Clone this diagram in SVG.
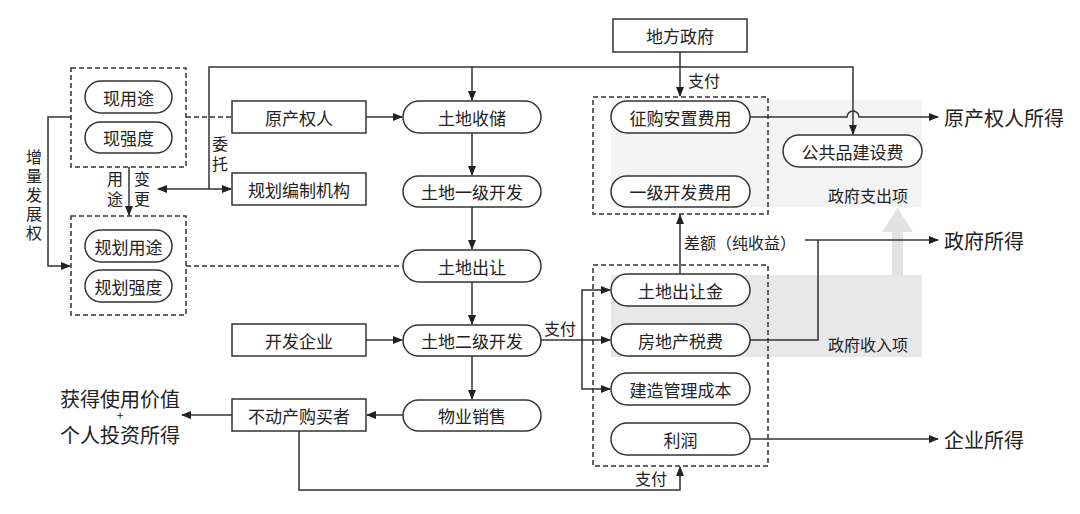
<svg xmlns="http://www.w3.org/2000/svg" width="1080" height="514" viewBox="0 0 1080 514">
<style>
text{font-family:"Noto Sans CJK SC","Noto Sans",sans-serif;fill:#222}
.t{font-size:17px;text-anchor:middle;dominant-baseline:central}
.b{font-size:20px;dominant-baseline:central}
.s{font-size:16px;dominant-baseline:central}
.n{fill:#fff;stroke:#333;stroke-width:1.5}
.d{fill:none;stroke:#333;stroke-width:1.5;stroke-dasharray:5 3}
.l{fill:none;stroke:#333;stroke-width:1.5}
.a{marker-end:url(#ar)}
</style>
<defs><marker id="ar" markerWidth="10" markerHeight="8" refX="9" refY="4" orient="auto" markerUnits="userSpaceOnUse"><path d="M0,0 L10,4 L0,8 Z" fill="#222"/></marker></defs>
<rect width="1080" height="514" fill="#fff"/>
<g id="shading">
<rect x="611" y="100" width="311" height="107" fill="#f4f4f4"/>
<rect x="611" y="275" width="311" height="82" fill="#e8e8e8"/>
<path d="M892,275 V232 H882 L897.5,208 L913,232 H903 V275 Z" fill="#e2e2e2"/>
<text class="s" x="828" y="195">政府支出项</text>
<text class="s" x="828" y="344">政府收入项</text>
</g>
<g id="groups">
<rect class="d" x="71" y="68" width="115" height="99"/>
<rect class="d" x="71" y="216" width="115" height="99"/>
<rect class="d" x="593" y="97" width="175" height="117"/>
<rect class="d" x="593" y="265" width="175" height="201"/>
</g>
<g id="connectors">
<path class="d" d="M186,117 H232"/>
<path class="d" d="M186,266 H403"/>
<path class="l a" d="M71,117 H48 V266 H70"/>
<path class="l a" d="M129,167 V215"/>
<path class="l" d="M209,189 V67 H853 V134"/>
<path class="l a" d="M853,126 V134"/>
<path class="l a" d="M472,67 V100"/>
<path class="l a" d="M209,189 H158"/>
<path class="l a" d="M209,189 H231"/>
<path class="l a" d="M366,117 H402"/>
<path class="l a" d="M472,133 V175"/>
<path class="l a" d="M472,207 V249"/>
<path class="l a" d="M472,282 V324"/>
<path class="l a" d="M366,340 H402"/>
<path class="l a" d="M472,356 V399"/>
<path class="l a" d="M403,415 H367"/>
<path class="l a" d="M232,415 H182"/>
<path class="l a" d="M299,431 V490 H680 V467"/>
<path class="l a" d="M680,52 V96"/>
<path class="l a" d="M750,117 H847 A6,6 0 0 1 859,117 H938"/>
<path class="l a" d="M541,340 H610"/>
<path class="l a" d="M582,340 V290 H610"/>
<path class="l a" d="M582,340 V389 H610"/>
<path class="l a" d="M680,274 V215"/>
<path class="l" d="M750,340 H818 V240"/>
<path class="l a" d="M805,240 H938"/>
<path class="l a" d="M750,439 H938"/>
</g>
<g id="labels">
<text class="s" x="688" y="80">支付</text>
<text class="s" x="544" y="328">支付</text>
<text class="s" x="635" y="478">支付</text>
<text class="s" x="684" y="242">差额（纯收益）</text>
<text class="s" x="220" y="143" text-anchor="middle">委</text>
<text class="s" x="220" y="163" text-anchor="middle">托</text>
<text class="s" x="115" y="178" text-anchor="middle">用</text>
<text class="s" x="115" y="198" text-anchor="middle">途</text>
<text class="s" x="142" y="178" text-anchor="middle">变</text>
<text class="s" x="142" y="198" text-anchor="middle">更</text>
<text class="s" x="34" y="156" text-anchor="middle">增</text>
<text class="s" x="34" y="175" text-anchor="middle">量</text>
<text class="s" x="34" y="194" text-anchor="middle">发</text>
<text class="s" x="34" y="213" text-anchor="middle">展</text>
<text class="s" x="34" y="232" text-anchor="middle">权</text>
<text class="b" x="944" y="117">原产权人所得</text>
<text class="b" x="944" y="240">政府所得</text>
<text class="b" x="944" y="439">企业所得</text>
<text class="b" x="120" y="398" text-anchor="middle">获得使用价值</text>
<text x="120" y="420" font-size="12" text-anchor="middle">+</text>
<text class="b" x="120" y="434" text-anchor="middle">个人投资所得</text>
</g>
<g id="n1"><rect class="n" x="85" y="81" width="87" height="32" rx="16"/><text class="t" x="128.5" y="97">现用途</text></g>
<g id="n2"><rect class="n" x="85" y="122" width="87" height="31" rx="15.5"/><text class="t" x="128.5" y="137.5">现强度</text></g>
<g id="n3"><rect class="n" x="85" y="230" width="87" height="32" rx="16"/><text class="t" x="128.5" y="246">规划用途</text></g>
<g id="n4"><rect class="n" x="85" y="270" width="87" height="32" rx="16"/><text class="t" x="128.5" y="286">规划强度</text></g>
<g id="n5"><rect class="n" x="232" y="101" width="134" height="32"/><text class="t" x="299" y="117">原产权人</text></g>
<g id="n6"><rect class="n" x="232" y="173" width="134" height="32"/><text class="t" x="299" y="189">规划编制机构</text></g>
<g id="n7"><rect class="n" x="232" y="324" width="134" height="32"/><text class="t" x="299" y="340">开发企业</text></g>
<g id="n8"><rect class="n" x="232" y="399" width="134" height="32"/><text class="t" x="299" y="415">不动产购买者</text></g>
<g id="n9"><rect class="n" x="403" y="101" width="138" height="32" rx="16"/><text class="t" x="472" y="117">土地收储</text></g>
<g id="n10"><rect class="n" x="403" y="176" width="138" height="31" rx="15.5"/><text class="t" x="472" y="191.5">土地一级开发</text></g>
<g id="n11"><rect class="n" x="403" y="250" width="138" height="32" rx="16"/><text class="t" x="472" y="266">土地出让</text></g>
<g id="n12"><rect class="n" x="403" y="325" width="138" height="31" rx="15.5"/><text class="t" x="472" y="340.5">土地二级开发</text></g>
<g id="n13"><rect class="n" x="403" y="400" width="138" height="31" rx="15.5"/><text class="t" x="472" y="415.5">物业销售</text></g>
<g id="n14"><rect class="n" x="613" y="19" width="134" height="33"/><text class="t" x="680" y="35.5">地方政府</text></g>
<g id="n15"><rect class="n" x="611" y="101" width="139" height="32" rx="16"/><text class="t" x="680.5" y="117">征购安置费用</text></g>
<g id="n16"><rect class="n" x="611" y="176" width="139" height="31" rx="15.5"/><text class="t" x="680.5" y="191.5">一级开发费用</text></g>
<g id="n17"><rect class="n" x="783" y="135" width="139" height="32" rx="16"/><text class="t" x="852.5" y="151">公共品建设费</text></g>
<g id="n18"><rect class="n" x="611" y="274" width="139" height="32" rx="16"/><text class="t" x="680.5" y="290">土地出让金</text></g>
<g id="n19"><rect class="n" x="611" y="324" width="139" height="32" rx="16"/><text class="t" x="680.5" y="340">房地产税费</text></g>
<g id="n20"><rect class="n" x="611" y="373" width="139" height="32" rx="16"/><text class="t" x="680.5" y="389">建造管理成本</text></g>
<g id="n21"><rect class="n" x="611" y="423" width="139" height="32" rx="16"/><text class="t" x="680.5" y="439">利润</text></g>
</svg>
